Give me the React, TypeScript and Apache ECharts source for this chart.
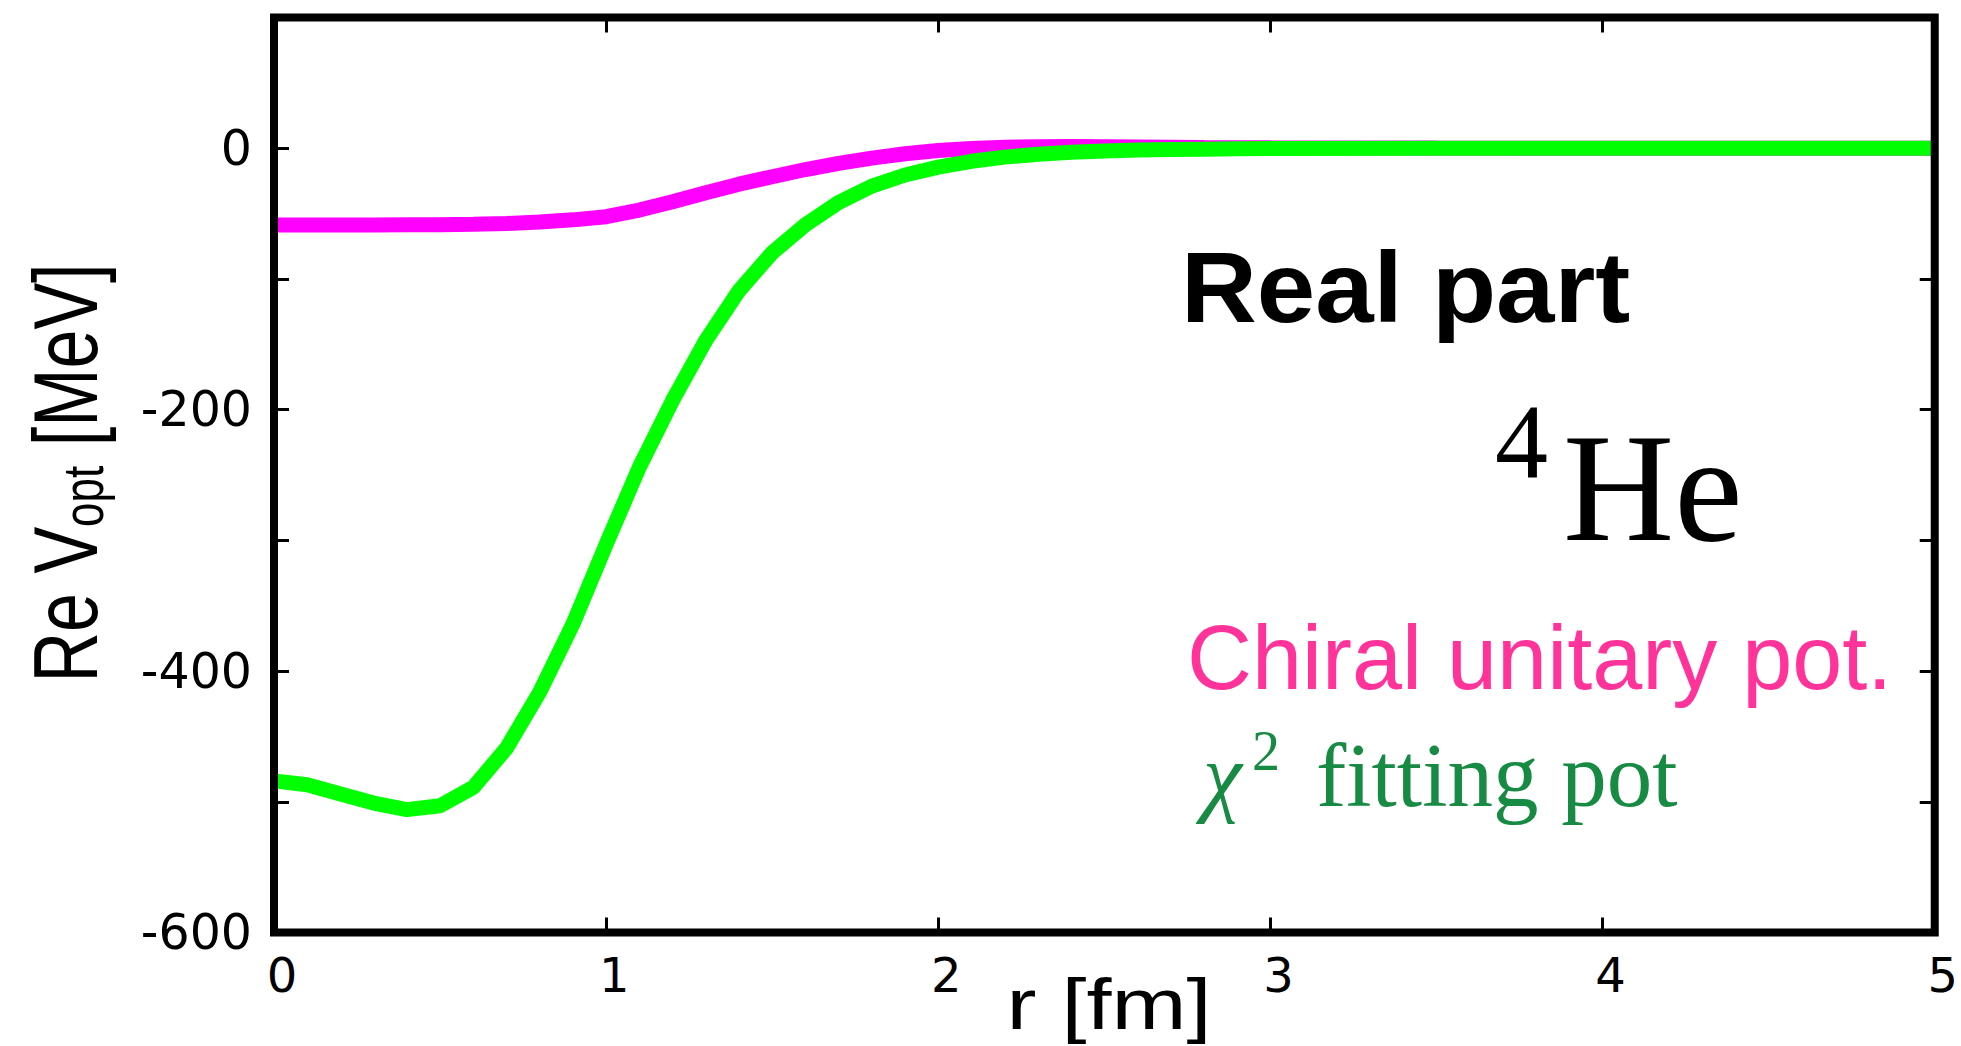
import React, { useEffect, useRef } from "react";
import * as echarts from "echarts";

// Radial distance r [fm]
const radius = [
  0, 0.1, 0.2, 0.3, 0.4, 0.5, 0.6, 0.7, 0.8, 0.9, 1.0, 1.1, 1.2, 1.3, 1.4, 1.5,
  1.6, 1.7, 1.8, 1.9, 2.0, 2.1, 2.2, 2.3, 2.4, 2.5, 2.6, 2.7, 2.8, 2.9, 3.0,
  3.5, 4.0, 4.5, 5.0,
];

// Re V_opt [MeV] from the chiral unitary potential
const chiralUnitary = [
  -58.7, -58.7, -58.7, -58.7, -58.6, -58.5, -58.2, -57.6, -56.5, -54.8, -52.4,
  -47.3, -41.0, -34.0, -27.5, -21.8, -16.3, -11.6, -7.6, -4.2, -1.8, -0.3, 0.7,
  1.2, 1.3, 1.2, 1.0, 0.8, 0.6, 0.45, 0.3, 0.08, 0.02, 0, 0,
];

// Re V_opt [MeV] from the chi^2 fitting potential
const chiSquareFit = [
  -484, -487, -494, -501, -506, -503, -489, -459, -416, -364, -303, -244, -193,
  -147, -109, -80, -58.5, -41.5, -29, -20.5, -14.5, -10, -6.8, -4.6, -3.1, -2.1,
  -1.4, -1.0, -0.7, -0.5, -0.3, -0.05, 0, 0, 0,
];

const xRange = [0, 5];
const yRange = [-600, 100];
const yLabelStep = 200;

const tickFont = "DejaVu Sans";
const sansFont = "Liberation Sans";
const serifFont = "Liberation Serif";

export default function App() {
  const ref = useRef<HTMLDivElement>(null);

  useEffect(() => {
    if (!ref.current) return;
    const chart = echarts.init(ref.current, null, { renderer: "svg" });

    const pair = (vals: number[]) => radius.map((r, i) => [r, vals[i]]);

    const tick = {
      show: true,
      inside: true,
      length: 15,
      lineStyle: { color: "#000", width: 3 },
    };
    const hiddenLine = { show: false, onZero: false };

    chart.setOption({
      animation: false,
      backgroundColor: "#fff",
      grid: {
        left: 274,
        top: 17.5,
        width: 1670,
        height: 915,
        show: true,
        z: 10,
        borderColor: "#000",
        borderWidth: 8,
        backgroundColor: "transparent",
      },
      xAxis: [
        {
          type: "value",
          min: xRange[0],
          max: xRange[1],
          interval: 1,
          position: "bottom",
          axisLine: hiddenLine,
          axisTick: tick,
          splitLine: { show: false },
          axisLabel: {
            color: "#000",
            fontFamily: tickFont,
            fontSize: 48,
            margin: 18,
            padding: [0, 0, 0, 16],
          },
        },
        {
          type: "value",
          min: xRange[0],
          max: xRange[1],
          interval: 1,
          position: "top",
          axisLine: hiddenLine,
          axisTick: tick,
          splitLine: { show: false },
          axisLabel: { show: false },
        },
      ],
      yAxis: [
        {
          type: "value",
          min: yRange[0],
          max: yRange[1],
          interval: 100,
          position: "left",
          axisLine: hiddenLine,
          axisTick: tick,
          splitLine: { show: false },
          axisLabel: {
            color: "#000",
            fontFamily: tickFont,
            fontSize: 49,
            margin: 22,
            padding: [0, 0, 10, 0],
            formatter: (v: number) => (v % yLabelStep === 0 ? String(v) : ""),
          },
        },
        {
          type: "value",
          min: yRange[0],
          max: yRange[1],
          interval: 100,
          position: "right",
          axisLine: hiddenLine,
          axisTick: tick,
          splitLine: { show: false },
          axisLabel: { show: false },
        },
      ],
      series: [
        {
          name: "Chiral unitary pot.",
          type: "line",
          xAxisIndex: 0,
          yAxisIndex: 0,
          data: pair(chiralUnitary),
          showSymbol: false,
          smooth: false,
          lineStyle: { color: "#ff00ff", width: 15 },
          z: 2,
        },
        {
          name: "chi2 fitting pot",
          type: "line",
          xAxisIndex: 0,
          yAxisIndex: 0,
          data: pair(chiSquareFit),
          showSymbol: false,
          smooth: false,
          lineStyle: { color: "#00ff00", width: 15 },
          z: 3,
        },
      ],
      graphic: [
        // y-axis title
        {
          type: "text",
          x: 66,
          y: 473,
          rotation: Math.PI / 2,
          scaleY: 1.3,
          z: 20,
          style: {
            text: "{a|Re V}{b|opt}{a| [MeV]}",
            textAlign: "center",
            textVerticalAlign: "middle",
            fill: "#000",
            rich: {
              a: {
                fontFamily: sansFont,
                fontSize: 70,
                verticalAlign: "bottom",
                fill: "#000",
              },
              b: {
                fontFamily: sansFont,
                fontSize: 44,
                verticalAlign: "bottom",
                fill: "#000",
              },
            },
          },
        },
        // x-axis title
        {
          type: "text",
          x: 1109,
          y: 1004,
          scaleX: 1.25,
          z: 20,
          style: {
            text: "r [fm]",
            fontFamily: sansFont,
            fontSize: 72,
            textAlign: "center",
            textVerticalAlign: "middle",
            fill: "#000",
          },
        },
        {
          type: "text",
          x: 1181,
          y: 287,
          scaleX: 1.05,
          z: 20,
          style: {
            text: "Real part",
            fontFamily: sansFont,
            fontWeight: "bold",
            fontSize: 100,
            textAlign: "left",
            textVerticalAlign: "middle",
            fill: "#000",
          },
        },
        {
          type: "text",
          x: 1495,
          y: 441,
          z: 20,
          style: {
            text: "4",
            fontFamily: serifFont,
            fontSize: 106,
            textAlign: "left",
            textVerticalAlign: "middle",
            fill: "#000",
          },
        },
        {
          type: "text",
          x: 1563,
          y: 488,
          z: 20,
          style: {
            text: "He",
            fontFamily: serifFont,
            fontSize: 154,
            textAlign: "left",
            textVerticalAlign: "middle",
            fill: "#000",
          },
        },
        {
          type: "text",
          x: 1187,
          y: 658,
          z: 20,
          style: {
            text: "Chiral unitary pot.",
            fontFamily: sansFont,
            fontSize: 90,
            textAlign: "left",
            textVerticalAlign: "middle",
            fill: "#ff3399",
          },
        },
        {
          type: "text",
          x: 1203,
          y: 775,
          z: 20,
          style: {
            text: "χ",
            fontFamily: serifFont,
            fontStyle: "italic",
            fontSize: 88,
            textAlign: "left",
            textVerticalAlign: "middle",
            fill: "#178a43",
          },
        },
        {
          type: "text",
          x: 1252,
          y: 751,
          z: 20,
          style: {
            text: "2",
            fontFamily: serifFont,
            fontSize: 56,
            textAlign: "left",
            textVerticalAlign: "middle",
            fill: "#178a43",
          },
        },
        {
          type: "text",
          x: 1316,
          y: 775,
          z: 20,
          style: {
            text: "fitting pot",
            fontFamily: serifFont,
            fontSize: 91,
            textAlign: "left",
            textVerticalAlign: "middle",
            fill: "#178a43",
          },
        },
      ],
    });

    return () => chart.dispose();
  }, []);

  return (
    <div
      ref={ref}
      style={{
        position: "absolute",
        left: 0,
        top: 0,
        width: 1961,
        height: 1046,
        background: "#fff",
      }}
    />
  );
}
